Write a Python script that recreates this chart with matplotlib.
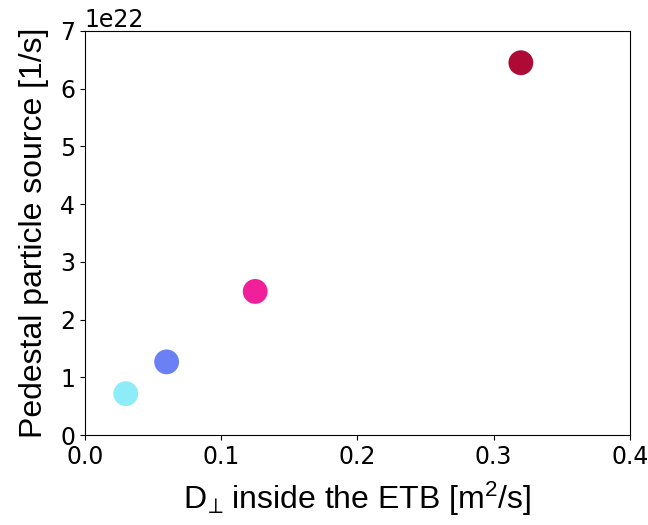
import matplotlib
matplotlib.use("Agg")
import matplotlib.pyplot as plt

# D_perp inside the ETB [m^2/s] vs pedestal particle source [1/s]
d_perp = [0.03, 0.06, 0.125, 0.32]
source = [0.72e22, 1.27e22, 2.49e22, 6.45e22]
colors = ["#8eebf8", "#6b80f5", "#f0209a", "#ad0b35"]

plt.rcParams["mathtext.fontset"] = "custom"
plt.rcParams["mathtext.rm"] = "Liberation Sans"
plt.rcParams["mathtext.default"] = "regular"

fig = plt.figure(figsize=(6.48, 5.25), dpi=100)
ax = fig.add_axes([0.131, 0.171, 0.841, 0.770])
ax.scatter(d_perp, source, c=colors, s=320, edgecolors="none", zorder=3)

ax.set_xlim(0, 0.4)
ax.set_ylim(0, 7e22)
ax.set_xticks([0.0, 0.1, 0.2, 0.3, 0.4])
ax.tick_params(labelsize=17)
ax.yaxis.get_offset_text().set_fontsize(17)

lab = dict(fontsize=23, family="Liberation Sans")
ax.set_xlabel(r"D$_{\!\perp}\!$ inside the ETB [m$^2$/s]", labelpad=8, **lab)
ax.set_ylabel("Pedestal particle source [1/s]", labelpad=8, **lab)

fig.savefig("out.png", dpi=100)
